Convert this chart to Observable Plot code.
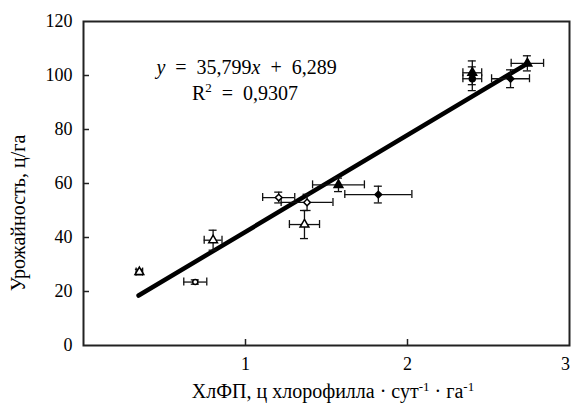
<!DOCTYPE html>
<html><head><meta charset="utf-8">
<script src="https://cdn.jsdelivr.net/npm/d3@7"></script>
<script src="https://cdn.jsdelivr.net/npm/@observablehq/plot@0.6"></script>
<style>body{margin:0;background:#fff} svg text{font-family:"Liberation Serif","DejaVu Serif",serif !important;}</style>
</head><body><div id="chart"></div>
<script>
// Data
const xVals  = [0.345, 0.69, 0.80, 1.205, 1.38, 1.364, 1.574, 1.82, 2.40, 2.40, 2.636, 2.74];
const yVals  = [27.2, 23.5, 39.0, 54.8, 53.0, 44.8, 59.5, 55.9, 98.8, 101.0, 98.8, 104.5];
const xErr   = [0.02, 0.071, 0.055, 0.099, 0.16, 0.093, 0.16, 0.207, 0.058, 0.058, 0.117, 0.10];
const yErr   = [1.0, 0.8, 3.7, 2.0, 3.0, 5.2, 2.5, 3.1, 4.4, 4.4, 3.3, 2.8];
const shapes = ["triangle","circle","triangle","diamond","diamond","triangle","triangle","diamond","circle","triangle","diamond","triangle"];
const filled = [false,false,false,false,false,false,true,true,true,true,true,true];
const lineX = [0.34, 2.74];
const lineY = [18.5, 104.4];
const xTicks = [1, 2, 3];
const yTicks = [0, 20, 40, 60, 80, 100, 120];

const pts = xVals.map((x, i) => ({x, y: yVals[i], xe: xErr[i], ye: yErr[i], shape: shapes[i], filled: filled[i]}));
const line = lineX.map((x, i) => ({x, y: lineY[i]}));
const sym = {triangle: "triangle", circle: "circle", diamond: "diamond2"};
const rad = {triangle: 5.4, circle: 3.3, diamond: 4.6};
const ff = "'Liberation Serif', 'DejaVu Serif', serif";

const plot = Plot.plot({
  width: 571, height: 403,
  marginLeft: 83, marginRight: 2, marginTop: 21, marginBottom: 58,
  x: {domain: [0, 3]},
  y: {domain: [0, 120]},
  style: {fontFamily: ff, fontSize: "18px", color: "#000", background: "#fff", overflow: "visible"},
  marks: [
    Plot.axisY(yTicks.slice(1, -1), {tickSize: -6, text: null, label: null, stroke: "#222", strokeWidth: 1.5}),
    Plot.axisY(yTicks, {tickSize: 0, tickPadding: 11, label: null, fontSize: 18, tickFormat: d => String(d)}),
    Plot.axisX(xTicks.slice(0, -1), {tickSize: -6, text: null, label: null, stroke: "#222", strokeWidth: 1.5}),
    Plot.axisX(xTicks.slice(0, -1), {tickSize: 0, tickPadding: 12, label: null, fontSize: 18, tickFormat: d => String(d)}),
    Plot.axisX(xTicks.slice(-1), {tickSize: 0, tickPadding: 12, label: null, fontSize: 18, dx: -4, tickFormat: d => String(d)}),
    Plot.frame({stroke: "#222", strokeWidth: 2}),
    Plot.line(line, {x: "x", y: "y", stroke: "#000", strokeWidth: 4.5}),
    // error bars
    Plot.ruleY(pts, {y: "y", x1: d => d.x - d.xe, x2: d => d.x + d.xe, stroke: "#111", strokeWidth: 1.3}),
    Plot.ruleX(pts, {x: "x", y1: d => d.y - d.ye, y2: d => d.y + d.ye, stroke: "#111", strokeWidth: 1.3}),
    Plot.ruleX(pts, {x: d => d.x - d.xe, y1: "y", y2: "y", insetTop: -4, insetBottom: -4, stroke: "#111", strokeWidth: 1.3}),
    Plot.ruleX(pts, {x: d => d.x + d.xe, y1: "y", y2: "y", insetTop: -4, insetBottom: -4, stroke: "#111", strokeWidth: 1.3}),
    Plot.ruleY(pts, {y: d => d.y - d.ye, x1: "x", x2: "x", insetLeft: -4, insetRight: -4, stroke: "#111", strokeWidth: 1.3}),
    Plot.ruleY(pts, {y: d => d.y + d.ye, x1: "x", x2: "x", insetLeft: -4, insetRight: -4, stroke: "#111", strokeWidth: 1.3}),
    ...["circle", "diamond", "triangle"].map(s =>
      Plot.dot(pts.filter(d => d.shape === s), {
        x: "x", y: "y", symbol: () => sym[s], r: d => (d.filled && s === "circle") ? 4.5 : rad[s],
        fill: d => d.filled ? "#000" : "#fff", stroke: "#000", strokeWidth: 1.5
      })
    )
  ]
});

const svg = d3.select(plot);
const sx = plot.scale("x"), sy = plot.scale("y");
// Equation
const eq1 = svg.append("text").attr("x", sx.apply(1.01)).attr("y", sy.apply(100.4)).attr("text-anchor", "middle")
  .attr("font-family", ff).attr("font-size", 20).attr("fill", "#000").style("white-space", "pre");
eq1.append("tspan").attr("font-style", "italic").text("y");
eq1.append("tspan").text("  =  35,799");
eq1.append("tspan").attr("font-style", "italic").text("x");
eq1.append("tspan").text("  +  6,289");
const eq2 = svg.append("text").attr("x", sx.apply(1.0)).attr("y", sy.apply(90.7)).attr("text-anchor", "middle")
  .attr("font-family", ff).attr("font-size", 20).attr("fill", "#000").style("white-space", "pre");
eq2.append("tspan").text("R");
eq2.append("tspan").attr("dy", -8).attr("font-size", 13).text("2");
eq2.append("tspan").attr("dy", 8).text("  =  0,9307");

// Axis labels
const xl = svg.append("text").attr("x", 333).attr("y", 398).attr("text-anchor", "middle")
  .attr("font-family", ff).attr("font-size", 20).attr("fill", "#000").style("white-space", "pre");
xl.append("tspan").text("ХлФП, ц хлорофилла · сут");
xl.append("tspan").attr("dy", -7).attr("font-size", 13).text("-1");
xl.append("tspan").attr("dy", 7).text(" · га");
xl.append("tspan").attr("dy", -7).attr("font-size", 13).text("-1");

svg.append("text").attr("transform", `translate(25,${(21 + 345) / 2 + 30}) rotate(-90)`).attr("text-anchor", "middle")
  .attr("font-family", ff).attr("font-size", 20).attr("fill", "#000").text("Урожайность, ц/га");

document.getElementById("chart").appendChild(plot);
</script>
</body></html>
